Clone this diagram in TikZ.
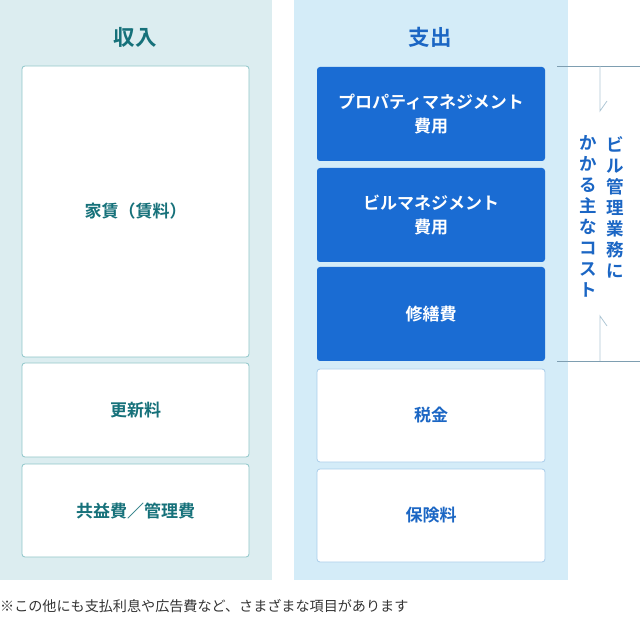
\documentclass[tikz,border=0pt]{standalone}
\usepackage{fontspec}
\setmainfont{Noto Sans CJK JP}[BoldFont={* Bold}]
\usepackage{xcolor}

\definecolor{inpanel}{HTML}{DCEDF0}
\definecolor{outpanel}{HTML}{D4ECF8}
\definecolor{inteal}{HTML}{16717A}
\definecolor{inborder}{HTML}{8EC6C9}
\definecolor{outblue}{HTML}{1B66C4}
\definecolor{outborder}{HTML}{A9CDEA}
\definecolor{costfill}{HTML}{1A6CD3}
\definecolor{bracket}{HTML}{7E9EB1}
\definecolor{bracketlight}{HTML}{AFC7D5}

\begin{document}
\begin{tikzpicture}[
  x=1pt,y=-1pt,
  heading/.style={font=\fontsize{21.5}{24}\selectfont\bfseries},
  inbox/.style={draw=inborder,fill=white,rounded corners=3pt,line width=0.8pt,
    minimum width=227pt,inner sep=0pt,text=inteal,
    font=\fontsize{17}{24}\selectfont\bfseries,align=center},
  outbox/.style={draw=outborder,fill=white,rounded corners=3pt,line width=0.8pt,
    minimum width=228pt,minimum height=93pt,inner sep=0pt,text=outblue,
    font=\fontsize{17}{24}\selectfont\bfseries,align=center},
  costbox/.style={outbox,draw=none,fill=costfill,text=white,minimum height=94pt},
  vtext/.style={anchor=north,text=outblue,align=center,inner sep=0pt,
    font=\fontsize{17.5}{21}\selectfont\bfseries}
]
  \useasboundingbox (0,0) rectangle (640,617);
  % panels
  \fill[inpanel] (0,0) rectangle (272,580);
  \fill[outpanel] (294,0) rectangle (568,580);
  \node[heading,text=inteal] (inhead) at (135,37) {収入};
  \node[heading,text=outblue] (outhead) at (430,37) {支出};
  % income side
  \node[inbox,minimum height=291pt] (rent) at (135.5,211.5) {家賃（賃料）};
  \node[inbox,minimum height=94pt] (renewal) at (135.5,410) {更新料};
  \node[inbox,minimum height=93pt] (common) at (135.5,510.5) {共益費／管理費};
  % expense side
  \node[costbox] (pm) at (431,114) {プロパティマネジメント\\費用};
  \node[costbox] (bm) at (431,215) {ビルマネジメント\\費用};
  \node[costbox] (repair) at (431,314) {修繕費};
  \node[outbox] (tax) at (431,415.5) {税金};
  \node[outbox] (insur) at (431,515.5) {保険料};
  % bracket
  \coordinate (btop) at (557,66);
  \coordinate (bbot) at (557,361);
  \draw[bracket,line width=0.8pt] (btop) -- (640,66);
  \draw[bracket,line width=0.8pt] (bbot) -- (640,361);
  \draw[bracketlight,line width=0.8pt] (600,66) -- (600,111) -- (607,101);
  \draw[bracketlight,line width=0.8pt] (600,361) -- (600,316) -- (607,326);
  \node[vtext] (vcol1) at (615,136) {ビ\\ル\\管\\理\\業\\務\\に};
  \node[vtext] (vcol2) at (588,135) {か\\か\\る\\主\\な\\コ\\ス\\ト};
  % note
  \node[anchor=west,inner sep=0pt,text=black!80,font=\fontsize{14.1}{16}\selectfont]
    (note) at (0,606) {※この他にも支払利息や広告費など、さまざまな項目があります};
\end{tikzpicture}
\end{document}
